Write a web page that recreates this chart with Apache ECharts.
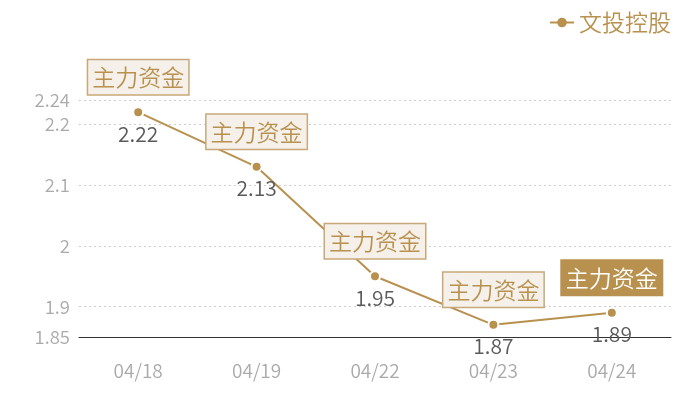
<!DOCTYPE html>
<html>
<head>
<meta charset="utf-8">
<script src="https://cdn.jsdelivr.net/npm/echarts@6/dist/echarts.min.js"></script>
<style>
  html, body { margin: 0; padding: 0; background: #fff; }
  #chart_container { width: 700px; height: 400px; }
</style>
</head>
<body>
<div id="chart_container"></div>
<script>
var seriesName = '文投控股'
var dates      = ['04/18', '04/19', '04/22', '04/23', '04/24']
var prices     = [2.22, 2.13, 1.95, 1.87, 1.89]
var tagText    = '主力资金'
var yMin = 1.85, yMax = 2.24

var gold = '#b8914f'
var font = 'Noto Sans CJK SC'
var weight = 350

// 主力资金 标记，最后一个实心
var tags = []
for (let i = 0; i < dates.length; i++) {
    let item = { coord: [dates[i], prices[i]], value: tagText }
    if (i === dates.length - 1) {
        item.label = { color: '#fff', backgroundColor: gold, borderColor: gold }
    }
    tags.push(item)
}

var chart = echarts.init(document.getElementById('chart_container'))
chart.setOption({
    animation: false,
    textStyle: { fontFamily: font, fontWeight: weight },
    legend: {
        data: [seriesName], right: 24, top: 6,
        itemWidth: 24, itemHeight: 12, itemGap: 6,
        itemStyle: { borderWidth: 0 },
        textStyle: { color: gold, fontSize: 23, fontFamily: font, fontWeight: weight }
    },
    grid: { left: 79, right: 29, top: 100, bottom: 63 },
    xAxis: {
        type: 'category', data: dates, boundaryGap: true,
        axisLine: { lineStyle: { color: '#333', width: 1 } },
        axisTick: { show: false },
        axisLabel: { color: '#aaa', fontSize: 19, margin: 24, fontFamily: font, fontWeight: weight }
    },
    yAxis: {
        type: 'value', min: yMin, max: yMax,
        axisLine: { show: false }, axisTick: { show: false },
        axisLabel: { color: '#aaa', fontSize: 18.5, margin: 9, fontFamily: font, fontWeight: weight },
        splitLine: { lineStyle: { color: '#ccc', type: [2, 3] } }
    },
    series: [{
        name: seriesName, type: 'line', data: prices,
        symbol: 'circle', symbolSize: 10,
        itemStyle: { color: gold, borderColor: '#fff', borderWidth: 2 },
        lineStyle: { color: gold, width: 2 },
        label: { show: true, position: 'bottom', distance: 5, color: '#5a5a5a', fontSize: 21, fontFamily: font, fontWeight: weight },
        markPoint: {
            symbol: 'circle', symbolSize: 0,
            label: {
                show: true, formatter: '{c}', position: 'top', offset: [0, -13],
                color: gold, fontSize: 23, fontFamily: font, fontWeight: weight,
                backgroundColor: '#f5f0ea', borderColor: '#c8a878', borderWidth: 1.5,
                padding: [6, 4, 5, 4]
            },
            data: tags
        }
    }]
})
</script>
</body>
</html>
